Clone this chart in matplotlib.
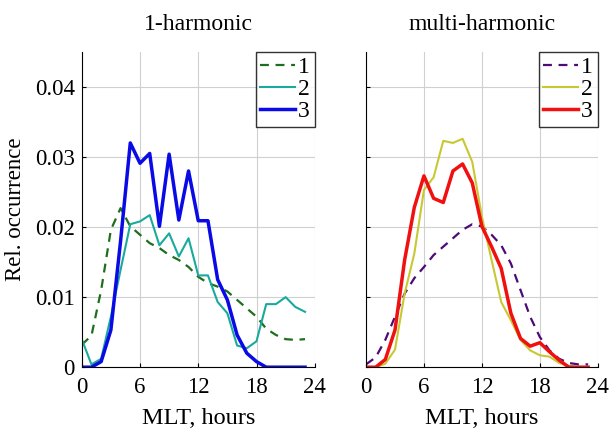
import numpy as np
import matplotlib.pyplot as plt

plt.rcParams['font.family'] = ['Liberation Serif', 'DejaVu Serif']

mlt = np.arange(24)

# 1-harmonic
one_h1 = [0.0032, 0.0045, 0.0110, 0.0196, 0.0227, 0.0201, 0.0189, 0.0177, 0.0170, 0.0160,
          0.0153, 0.0143, 0.0129, 0.0120, 0.0115, 0.0108, 0.0096, 0.0084, 0.0072, 0.0055,
          0.0046, 0.0040, 0.0039, 0.0040]
one_h2 = [0.0040, 0.0004, 0.0012, 0.0072, 0.0139, 0.0204, 0.0208, 0.0217, 0.0174, 0.0191,
          0.0158, 0.0184, 0.0131, 0.0131, 0.0093, 0.0077, 0.0031, 0.0027, 0.0037, 0.0090,
          0.0090, 0.0100, 0.0086, 0.0079]
one_h3 = [0.0, 0.0, 0.0008, 0.0053, 0.0180, 0.0320, 0.0291, 0.0305, 0.0201, 0.0304,
          0.0210, 0.0280, 0.0209, 0.0209, 0.0125, 0.0096, 0.0046, 0.0020, 0.0008, 0.0,
          0.0, 0.0, 0.0, 0.0]

# multi-harmonic
multi_h1 = [0.0004, 0.0014, 0.0039, 0.0072, 0.0105, 0.0127, 0.0143, 0.0160, 0.0172, 0.0184,
            0.0196, 0.0204, 0.0201, 0.0189, 0.0174, 0.0148, 0.0110, 0.0072, 0.0043, 0.0024,
            0.0012, 0.0006, 0.0004, 0.0004]
multi_h2 = [0.0, 0.0, 0.0005, 0.0025, 0.0105, 0.0162, 0.0253, 0.0271, 0.0323, 0.0320,
            0.0326, 0.0293, 0.0215, 0.0153, 0.0093, 0.0067, 0.0039, 0.0024, 0.0017, 0.0015,
            0.0006, 0.0002, 0.0, 0.0]
multi_h3 = [0.0, 0.0, 0.0011, 0.0053, 0.0153, 0.0228, 0.0273, 0.0241, 0.0235, 0.0280,
            0.0290, 0.0263, 0.0201, 0.0172, 0.0141, 0.0077, 0.0041, 0.0030, 0.0035, 0.0022,
            0.0010, 0.0, 0.0, 0.0]

fig = plt.figure(figsize=(6.1, 4.32), dpi=100)
ax1 = fig.add_axes([0.134, 0.150, 0.382, 0.730])
ax2 = fig.add_axes([0.600, 0.150, 0.380, 0.730])

ax1.plot(mlt, one_h1, '--', color='#1e6e1e', lw=1.6, dashes=(4, 3), label='1')
ax1.plot(mlt, one_h2, '-', color='#1aaa9c', lw=1.5, label='2')
ax1.plot(mlt, one_h3, '-', color='#0a0ae6', lw=2.5, label='3')

ax2.plot(mlt, multi_h1, '--', color='#4e0a78', lw=1.6, dashes=(4, 3), label='1')
ax2.plot(mlt, multi_h2, '-', color='#c8c832', lw=1.5, label='2')
ax2.plot(mlt, multi_h3, '-', color='#f01010', lw=2.5, label='3')

for ax, title in [(ax1, '1-harmonic'), (ax2, 'multi-harmonic')]:
    ax.set_xlim(0, 24)
    ax.set_ylim(0, 0.045)
    ax.set_xticks([0, 6, 12, 18, 24])
    ax.set_yticks([0, 0.01, 0.02, 0.03, 0.04])
    ax.grid(True, color='#d0d0d0', lw=0.8)
    ax.spines['top'].set_visible(False)
    ax.spines['right'].set_visible(False)
    ax.tick_params(direction='in', length=3, labelsize=16.5)
    ax.tick_params(axis='x', pad=7)
    ax.tick_params(axis='y', pad=5)
    ax.set_xlabel('MLT, hours', fontsize=17.5, labelpad=7)
    ax.set_title(title, fontsize=17, pad=16)
    leg = ax.legend(loc='upper right', borderaxespad=0, fancybox=False,
                    edgecolor='black', fontsize=17, handlelength=1.45,
                    handletextpad=0.15, labelspacing=0.02, borderpad=0.2)
    leg.get_frame().set_linewidth(1.0)

ax1.set_yticklabels(['0', '0.01', '0.02', '0.03', '0.04'])
ax2.set_yticklabels([])
ax1.set_ylabel('Rel. occurrence', fontsize=16.5, labelpad=6)

fig.savefig('out.png', dpi=100)
